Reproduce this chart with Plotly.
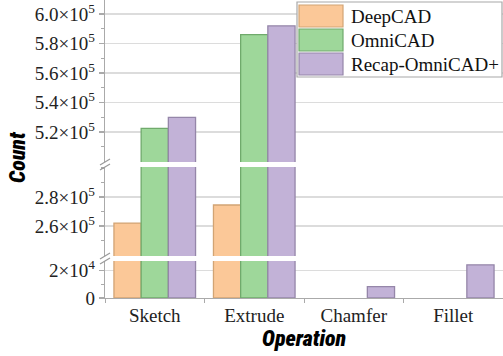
import plotly.graph_objects as go

categories = ["Sketch", "Extrude", "Chamfer", "Fillet"]
series_names = ["DeepCAD", "OmniCAD", "Recap-OmniCAD+"]
deepcad = [262000, 274500, 0, 0]
omnicad = [522500, 586000, 0, 0]
recap = [530000, 592000, 8300, 24000]
series_values = [deepcad, omnicad, recap]

fills = ["#FBC898", "#9ED79A", "#C2B2D7"]
edges = ["#D2A474", "#70AA6C", "#9586A9"]

top_major = [520000, 540000, 560000, 580000, 600000]
top_major_text = ["5.2×10<sup>5</sup>", "5.4×10<sup>5</sup>", "5.6×10<sup>5</sup>",
                  "5.8×10<sup>5</sup>", "6.0×10<sup>5</sup>"]
top_minor = [510000, 530000, 550000, 570000, 590000]
mid_major = [260000, 280000]
mid_major_text = ["2.6×10<sup>5</sup>", "2.8×10<sup>5</sup>"]
mid_minor = [250000, 270000, 290000, 300000]
bot_major = [0, 20000]
bot_major_text = ["0", "2×10<sup>4</sup>"]
bot_minor = [10000]

W, H = 503, 356
ML, MR, MT, MB = 105, 0, 0, 58
PW, PH = W - ML - MR, H - MT - MB

SERIF = "Liberation Serif"
TITLE = "Roboto Condensed, Liberation Sans, sans-serif"


def py(pix):  # pixel y (from top of plot area) -> paper
    return (PH - pix) / PH


def px(pix):  # pixel x -> paper
    return (pix - ML) / PW


segments = [
    ("y", [0, 26800], [0.0, py(261)], bot_major, bot_major_text, bot_minor),
    ("y2", [239300, 300700], [py(256), py(167)], mid_major, mid_major_text, mid_minor),
    ("y3", [499700, 609500], [py(162), 1.0], top_major, top_major_text, top_minor),
]

fig = go.Figure()
for yname, rng, dom, maj, majt, mnr in segments:
    for name, vals, fc, ec in zip(series_names, series_values, fills, edges):
        fig.add_trace(go.Bar(
            x=categories, y=vals, name=name, xaxis="x", yaxis=yname,
            marker=dict(color=fc, line=dict(color=ec, width=[1.3 if v else 0 for v in vals])),
            showlegend=False, offsetgroup=name, hoverinfo="skip",
        ))

layout_axes = {}
for yname, rng, dom, maj, majt, mnr in segments:
    key = "yaxis" if yname == "y" else "yaxis" + yname[1:]
    layout_axes[key] = dict(
        showline=True, linecolor="#AAAAAA", linewidth=1.3,
        ticks="outside", ticklen=5, tickcolor="#AAAAAA", tickwidth=1.2,
        showgrid=True, gridcolor="#DCDCDC", gridwidth=1.3,
        zeroline=False, anchor="x", automargin=False,
        range=rng, domain=dom,
        tickmode="array", tickvals=maj, ticktext=majt,
        minor=dict(tickmode="array", tickvals=mnr, ticks="outside", ticklen=3,
                   tickcolor="#AAAAAA", showgrid=False),
    )

fig.update_layout(
    template="none",
    width=W, height=H,
    font=dict(family=SERIF, size=19, color="#222222"),
    margin=dict(l=ML, r=MR, t=MT, b=MB, pad=0),
    paper_bgcolor="white", plot_bgcolor="white",
    barmode="group", bargap=0.18, bargroupgap=0,
    showlegend=False,
    xaxis=dict(
        type="category", showline=True, linecolor="#AAAAAA",
        linewidth=1.3, ticks="outside", ticklen=4, tickcolor="#AAAAAA",
        tickson="boundaries", showgrid=False, anchor="y", domain=[0, 1],
        automargin=False,
    ),
    **layout_axes,
)
fig.update_xaxes(tickfont_family=SERIF, tickfont_size=19, tickfont_color="#222222")
fig.update_yaxes(tickfont_family=SERIF, tickfont_size=19, tickfont_color="#222222")

# axis titles
title_font = dict(family=TITLE, size=22, color="black", weight=900, style="italic")
fig.add_annotation(text="Operation", xref="paper", yref="paper", x=0.5, y=py(338),
                   xanchor="center", yanchor="middle", showarrow=False, font=title_font)
fig.add_annotation(text="Count", xref="paper", yref="paper", x=px(17), y=py(157),
                   xanchor="center", yanchor="middle", showarrow=False, textangle=-90,
                   font=title_font)

# axis break marks
for ypix in [162, 167, 256, 261]:
    fig.add_shape(type="line", xref="paper", yref="paper",
                  x0=px(ML - 5), x1=px(ML + 5), y0=py(ypix + 3), y1=py(ypix - 3),
                  line=dict(color="#999999", width=1.2), layer="above")

# legend box
fig.add_shape(type="rect", xref="paper", yref="paper",
              x0=px(297), x1=px(502), y0=py(77), y1=py(2),
              line=dict(color="#A8A8A8", width=1.2), fillcolor="white", layer="above")
rows = [(5, 27, 17), (29, 51, 40), (53, 75, 64)]
for (t, b, c), name, fc, ec in zip(rows, series_names, fills, edges):
    fig.add_shape(type="rect", xref="paper", yref="paper",
                  x0=px(299), x1=px(343), y0=py(b), y1=py(t),
                  line=dict(color=ec, width=1.2), fillcolor=fc, layer="above")
    fig.add_annotation(text=name, xref="paper", yref="paper", x=px(349), y=py(c),
                       xanchor="left", yanchor="middle", showarrow=False,
                       font=dict(family=SERIF, size=19, color="#111111"))

fig.write_html("out.html", config={"displayModeBar": False, "staticPlot": True},
               post_script="document.body.style.margin='0';document.body.style.padding='0';")
